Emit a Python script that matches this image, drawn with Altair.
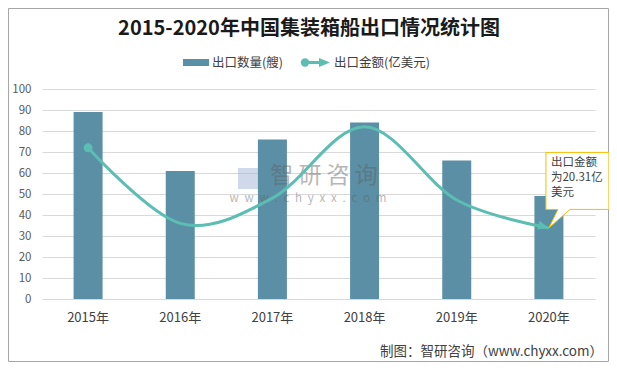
import altair as alt
import pandas as pd

# ---- data ----
years = ["2015年", "2016年", "2017年", "2018年", "2019年", "2020年"]
export_count = [89, 61, 76, 84, 66, 49]              # 出口数量(艘)
export_value = [43.2, 21.6, 28.8, 49.2, 28.3, 20.31]  # 出口金额(亿美元), hidden secondary axis 0-60

y_ticks = list(range(0, 101, 10))
title_text = "2015-2020年中国集装箱船出口情况统计图"
legend_labels = ["出口数量(艘)", "出口金额(亿美元)"]
callout_text = "出口金额\n为20.31亿\n美元"
source_text = "制图：智研咨询（www.chyxx.com）"
watermark_main = "智 研 咨 询"
watermark_sub = "\u2002".join("www.chyxx.com")

df = pd.DataFrame({"year": years, "count": export_count, "value": export_value})

BAR = "#5b8fa6"
LINE = "#5cbdb3"
GOLD = "#f6bf00"
FONT = "Noto Sans CJK SC"
ARROW = "M0,0 L-11,-4.5 L-11,4.5 Z"
CALLOUT = "M-3,-75.5 L60,-75.5 L60,-18.5 L21,-18.5 L0,0 L9,-18.5 L-3,-18.5 Z"

x_enc = alt.X(
    "year:N", sort=years,
    scale=alt.Scale(paddingInner=0, paddingOuter=0),
    axis=alt.Axis(title=None, labelAngle=0, ticks=False, tickSize=0, labelPadding=12,
                  labelFontSize=13, labelColor="#404040", labelFont=FONT,
                  domainColor="#d9d9d9", grid=False),
)
x_plain = alt.X("year:N", sort=years)

bars = alt.Chart(df).mark_bar(color=BAR, size=29).encode(
    x=x_enc,
    y=alt.Y("count:Q", scale=alt.Scale(domain=[0, 100], nice=False),
            axis=alt.Axis(title=None, values=y_ticks, ticks=False, tickSize=0, domain=False,
                          labelPadding=11, labelFontSize=11.5, labelColor="#595959",
                          labelFont=FONT, gridColor="#d9d9d9")),
)

y2 = alt.Y("value:Q", scale=alt.Scale(domain=[0, 60], nice=False), axis=None)
last = df.iloc[[-1]].assign(t=callout_text)

line = alt.Chart(df).mark_line(interpolate="cardinal", strokeWidth=3, color=LINE).encode(x=x_plain, y=y2)
callout = alt.Chart(last).mark_point(shape=CALLOUT, size=4, filled=True, fill="white",
                                     stroke=GOLD, strokeWidth=1, opacity=1).encode(x=x_plain, y=y2)
ctext = alt.Chart(last).mark_text(font=FONT, fontSize=11.5, color="#404040", align="left",
                                  baseline="top", dx=2, dy=-71, lineBreak="\n", lineHeight=15
                                  ).encode(x=x_plain, y=y2, text="t:N")
start = alt.Chart(df.iloc[[0]]).mark_circle(size=80, color=LINE, opacity=1).encode(x=x_plain, y=y2)
arrow = alt.Chart(df.iloc[[-1]]).mark_point(shape=ARROW, size=4, filled=True, color=LINE,
                                            opacity=1, angle=15).encode(x=x_plain, y=y2)
line_group = alt.layer(line, callout, ctext, start, arrow)


def txt(text, x, y, **kw):
    return alt.Chart(pd.DataFrame({"t": [text]})).mark_text(font=FONT, **kw).encode(
        x=alt.value(x), y=alt.value(y), text="t:N")


one = pd.DataFrame({"a": [0]})
border = alt.Chart(one).mark_rect(fillOpacity=0, stroke="#a6a6a6", strokeWidth=1).encode(
    x=alt.value(-33.5), x2=alt.value(566.5), y=alt.value(-80.5), y2=alt.value(272.5))

title = txt(title_text, 267, -60.5, fontSize=20, fontWeight="bold", color="#1a1a1a",
            align="center", baseline="middle")
leg_swatch = alt.Chart(one).mark_rect(color=BAR).encode(
    x=alt.value(141), x2=alt.value(167), y=alt.value(-30), y2=alt.value(-23))
leg_text1 = txt(legend_labels[0], 170, -26.5, fontSize=12.5, color="#404040", align="left", baseline="middle")
leg_rule = alt.Chart(one).mark_rule(color=LINE, strokeWidth=3).encode(
    x=alt.value(263), x2=alt.value(282), y=alt.value(-26.5))
leg_dot = alt.Chart(one).mark_point(shape="circle", size=70, filled=True, color=LINE, opacity=1).encode(
    x=alt.value(263), y=alt.value(-26.5))
leg_arrow = alt.Chart(one).mark_point(shape=ARROW, size=4, filled=True, color=LINE, opacity=1).encode(
    x=alt.value(288), y=alt.value(-26.5))
leg_text2 = txt(legend_labels[1], 292, -26.5, fontSize=12.5, color="#404040", align="left", baseline="middle")

footer = txt(source_text, 561, 262.5, fontSize=13.5, color="#404040", align="right", baseline="middle")
logo = alt.Chart(one).mark_rect(color="#9fb4d6", opacity=0.5).encode(
    x=alt.value(196), x2=alt.value(216), y=alt.value(79), y2=alt.value(100))
wm1 = txt(watermark_main, 282, 87, fontSize=23, color="#606060", opacity=0.45,
          align="center", baseline="middle")
wm2 = txt(watermark_sub, 266, 110, fontSize=11.5, color="#606060", opacity=0.45,
          align="center", baseline="middle")

chart = alt.layer(
    border, bars, logo, wm1, wm2, line_group, title, leg_swatch, leg_text1, leg_rule, leg_dot,
    leg_arrow, leg_text2, footer,
).resolve_scale(y="independent").properties(
    width=553, height=210,
    autosize=alt.AutoSizeParams(type="none"),
    padding={"left": 34, "top": 81, "right": 14, "bottom": 63},
).configure_view(strokeWidth=0)

chart.save("out.html", embed_options={"renderer": "svg", "actions": False})
